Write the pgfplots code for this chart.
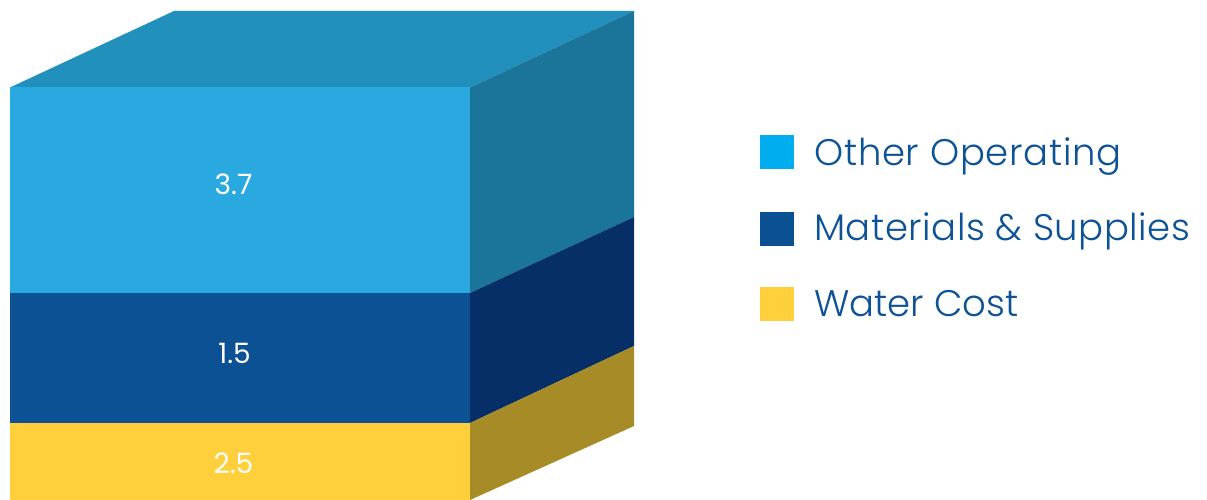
\documentclass[border=0pt]{standalone}
\usepackage{pgfplots}
\pgfplotsset{compat=1.18}
\usepackage{fontspec}
\setmainfont{Poppins Light}
\newfontfamily\numfont{Poppins}
\definecolor{topF}{HTML}{2290BD}
\definecolor{sideA}{HTML}{1B7499}
\definecolor{sideB}{HTML}{052F66}
\definecolor{sideC}{HTML}{A68B27}
\definecolor{frontA}{HTML}{2AA9E1}
\definecolor{frontB}{HTML}{0C5194}
\definecolor{frontC}{HTML}{FFD03B}
\definecolor{keyA}{HTML}{00AEEF}
\definecolor{keyB}{HTML}{0B5092}
\definecolor{keyC}{HTML}{FFD03B}
\definecolor{legtext}{HTML}{0C5297}
\begin{document}
\begin{tikzpicture}
% fixes the page to the full canvas
\path (0,0) rectangle (1207pt,500pt);
\begin{axis}[
  at={(0,0)}, anchor=south west, scale only axis,
  width=1207pt, height=500pt,
  xmin=0, xmax=1207, ymin=0, ymax=500,
  axis lines=none, clip=true,
]
% the box: top, side faces and front faces of the three cost layers
\addplot[draw=none, fill=topF] coordinates {(10,412.5) (174,489) (634,489) (470,412.5)} -- cycle;
\addplot[draw=none, fill=sideA] coordinates {(470,412.5) (634,489) (634,283) (470,207)} -- cycle;
\addplot[draw=none, fill=sideB] coordinates {(470,207) (634,283) (634,154) (470,77)} -- cycle;
\addplot[draw=none, fill=sideC] coordinates {(470,77) (634,154) (634,74) (470,0)} -- cycle;
\addplot[draw=none, fill=frontA] coordinates {(10,412.5) (470,412.5) (470,207) (10,207)} -- cycle;
\addplot[draw=none, fill=frontB] coordinates {(10,207) (470,207) (470,77) (10,77)} -- cycle;
\addplot[draw=none, fill=frontC] coordinates {(10,77) (470,77) (470,0) (10,0)} -- cycle;
% value labels
\node[white, anchor=base, font=\numfont\fontsize{28pt}{30pt}\selectfont] at (axis cs:233.5,305) {3.7};
\node[white, anchor=base, font=\numfont\fontsize{28pt}{30pt}\selectfont] at (axis cs:234.5,136) {1.5};
\node[white, anchor=base, font=\numfont\fontsize{28pt}{30pt}\selectfont] at (axis cs:233.5,26) {2.5};
% legend
\addplot[draw=none, fill=keyA] coordinates {(760,365) (794,365) (794,331) (760,331)} -- cycle;
\addplot[draw=none, fill=keyB] coordinates {(760,288) (794,288) (794,254) (760,254)} -- cycle;
\addplot[draw=none, fill=keyC] coordinates {(760,213) (794,213) (794,179) (760,179)} -- cycle;
\node[legtext, anchor=base west, inner sep=0pt, font=\fontsize{37pt}{42pt}\selectfont\addfontfeature{LetterSpace=2}] at (axis cs:814,334) {Other Operating};
\node[legtext, anchor=base west, inner sep=0pt, font=\fontsize{37pt}{42pt}\selectfont\addfontfeature{LetterSpace=1.5}] at (axis cs:814,259) {Materials \& Supplies};
\node[legtext, anchor=base west, inner sep=0pt, font=\fontsize{37pt}{42pt}\selectfont] at (axis cs:814,183) {Water Cost};
\end{axis}
\end{tikzpicture}
\end{document}
